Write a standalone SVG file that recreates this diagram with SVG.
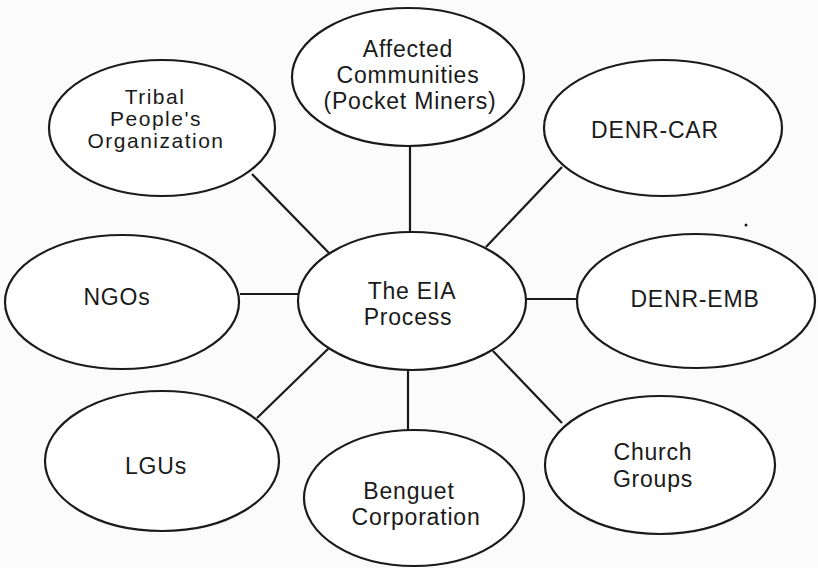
<svg xmlns="http://www.w3.org/2000/svg" width="818" height="568" viewBox="0 0 818 568">
<style>
.n{fill:#fff;stroke:#1a1a1a;stroke-width:2.2}
.c line{stroke:#1a1a1a;stroke-width:2.2}
text{font-family:"Liberation Sans",Arial,Helvetica,sans-serif;font-size:23px;letter-spacing:0.8px;fill:#1a1a1a;text-anchor:middle}
.t{font-size:21px;letter-spacing:1.5px}
</style>
<rect width="818" height="568" fill="#fbfbfb"/>
<g id="connectors" class="c">
<line x1="252" y1="174" x2="329" y2="253"/>
<line x1="410" y1="146" x2="410" y2="232"/>
<line x1="562" y1="167" x2="486" y2="247"/>
<line x1="240" y1="294" x2="298" y2="294"/>
<line x1="526" y1="299" x2="576" y2="299"/>
<line x1="257" y1="418" x2="329" y2="348"/>
<line x1="408" y1="369" x2="408" y2="432"/>
<line x1="493" y1="351" x2="562" y2="423"/>
</g>
<g id="affected">
<ellipse class="n" cx="408" cy="77" rx="116" ry="69"/>
<text x="408" y="57">Affected</text>
<text x="408" y="83">Communities</text>
<text x="410" y="109">(Pocket Miners)</text>
</g>
<g id="tribal">
<ellipse class="n" cx="162" cy="128" rx="113" ry="68"/>
<text class="t" x="155" y="104">Tribal</text>
<text class="t" x="156" y="126">People's</text>
<text class="t" x="156" y="148">Organization</text>
</g>
<g id="denr-car">
<ellipse class="n" cx="663" cy="128" rx="119" ry="68"/>
<text x="655" y="138">DENR-CAR</text>
</g>
<g id="ngos">
<ellipse class="n" cx="122" cy="302" rx="117" ry="67"/>
<text x="117" y="305">NGOs</text>
</g>
<g id="eia">
<ellipse class="n" cx="412" cy="301" rx="114" ry="69"/>
<text x="412" y="299">The EIA</text>
<text x="408" y="325">Process</text>
</g>
<g id="denr-emb">
<ellipse class="n" cx="696" cy="301" rx="119" ry="67"/>
<text x="695" y="307">DENR-EMB</text>
</g>
<g id="lgus">
<ellipse class="n" cx="162" cy="461" rx="117" ry="70"/>
<text x="156" y="474">LGUs</text>
</g>
<g id="benguet">
<ellipse class="n" cx="414" cy="498" rx="110" ry="68"/>
<text x="409" y="499">Benguet</text>
<text x="416" y="525">Corporation</text>
</g>
<g id="church">
<ellipse class="n" cx="660" cy="465" rx="115" ry="69"/>
<text x="653" y="460">Church</text>
<text x="653" y="487">Groups</text>
</g>
<circle cx="746" cy="225" r="1.5" fill="#1a1a1a"/>
</svg>
